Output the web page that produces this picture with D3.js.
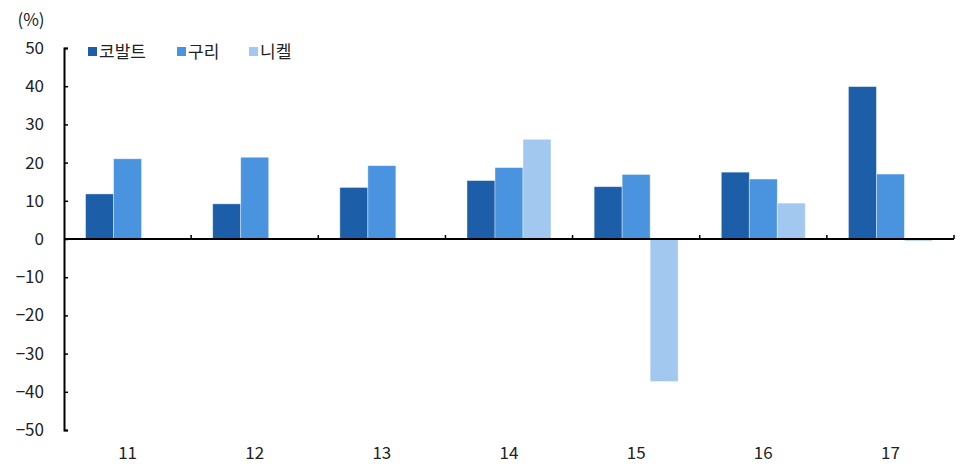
<!DOCTYPE html>
<html>
<head>
<meta charset="utf-8">
<script src="https://cdn.jsdelivr.net/npm/d3@7"></script>
<style>
  body { margin: 0; background: #fff; }
  text { font-family: "Noto Sans CJK KR", "Noto Sans", sans-serif; fill: #222; }
</style>
</head>
<body>
<script>
var years = ["11", "12", "13", "14", "15", "16", "17"];
var seriesNames = ["코발트", "구리", "니켈"];
var cobalt = [11.8, 9.2, 13.5, 15.3, 13.7, 17.5, 39.9];
var copper = [21.0, 21.4, 19.2, 18.7, 16.9, 15.7, 17.0];
var nickel = [null, null, null, 26.1, -37.3, 9.4, -0.5];
var yTicks = [50, 40, 30, 20, 10, 0, -10, -20, -30, -40, -50];
var colors = ["#1c5ea8", "#4a93de", "#a3c8f0"];

var W = 961, H = 464;
var margin = {left: 64, right: 7, top: 48, bottom: 34};

var svg = d3.select("body").append("svg").attr("width", W).attr("height", H);

var x = d3.scaleBand().domain(years).range([margin.left, W - margin.right]);
var y = d3.scaleLinear().domain([-50, 50]).range([H - margin.bottom, margin.top]);
var xs = d3.scaleBand().domain([0, 1, 2]).range([0, 84]);
var off = (x.bandwidth() - 84) / 2;

var series = [cobalt, copper, nickel];

// bars
series.forEach(function(vals, si) {
  svg.append("g").selectAll("rect")
    .data(vals.map(function(v, i) { return {v: v, c: years[i]}; }).filter(function(d) { return d.v !== null; }))
    .enter().append("rect")
    .attr("x", function(d) { return x(d.c) + off + xs(si); })
    .attr("width", xs.bandwidth())
    .attr("y", function(d) { return y(Math.max(0, d.v)); })
    .attr("height", function(d) { return Math.abs(y(d.v) - y(0)); })
    .attr("fill", colors[si])
    .attr("stroke", "rgba(255,255,255,0.5)")
    .attr("stroke-width", 0.8);
});

// y axis
var yAxis = d3.axisRight(y).tickValues(yTicks).tickSize(4).tickFormat("");
var ya = svg.append("g").attr("transform", "translate(" + margin.left + ",0)").call(yAxis);
ya.select(".domain").attr("stroke", "#000").attr("stroke-width", 2);
ya.selectAll(".tick line").attr("stroke", "#000").attr("stroke-width", 1.5);

svg.append("g").selectAll("text").data(yTicks).enter().append("text")
  .attr("x", 44).attr("y", function(d) { return y(d); })
  .attr("dy", "0.35em").attr("text-anchor", "end")
  .style("font-size", "17px")
  .text(function(d) { return d < 0 ? "\u2212" + Math.abs(d) : d; });

svg.append("text").attr("x", 31).attr("y", 20).attr("dy", "0.35em")
  .attr("text-anchor", "middle").style("font-size", "17px").text("(%)");

// x axis at zero
var boundaries = years.map(function(c) { return x(c) + x.bandwidth(); });
var xa = svg.append("g");
xa.append("line").attr("x1", margin.left).attr("x2", W - margin.right)
  .attr("y1", y(0)).attr("y2", y(0)).attr("stroke", "#000").attr("stroke-width", 2);
xa.selectAll("line.tk").data(boundaries).enter().append("line").attr("class", "tk")
  .attr("x1", function(d) { return d; }).attr("x2", function(d) { return d; })
  .attr("y1", y(0)).attr("y2", y(0) - 4).attr("stroke", "#000").attr("stroke-width", 1.5);

svg.append("g").selectAll("text").data(years).enter().append("text")
  .attr("x", function(d) { return x(d) + x.bandwidth() / 2; })
  .attr("y", 453).attr("dy", "0.35em").attr("text-anchor", "middle")
  .style("font-size", "17px").text(function(d) { return d; });

// legend
var legX = [88, 177, 249];
var leg = svg.append("g").selectAll("g").data(seriesNames).enter().append("g")
  .attr("transform", function(d, i) { return "translate(" + legX[i] + ",52)"; });
leg.append("rect").attr("x", 0).attr("y", -5).attr("width", 9).attr("height", 9)
  .attr("fill", function(d, i) { return colors[i]; });
leg.append("text").attr("x", 11).attr("y", 0).attr("dy", "0.35em")
  .style("font-size", "17px").text(function(d) { return d; });
</script>
</body>
</html>
